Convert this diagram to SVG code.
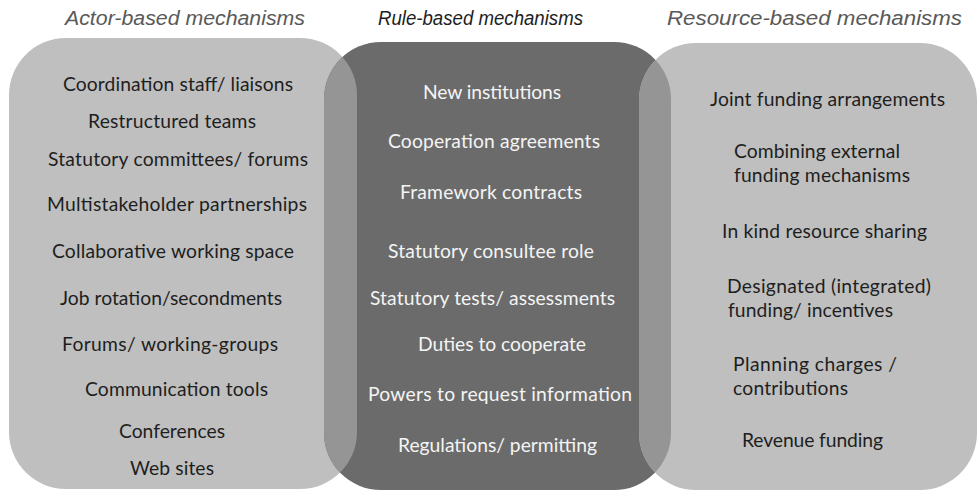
<svg xmlns="http://www.w3.org/2000/svg" width="977" height="492" viewBox="0 0 977 492">
<style>
.light{fill:#bfbfbf}
.dark{fill:#6b6b6b}
.ov{fill:#959595}
.h{font-family:"Liberation Sans",Arial,sans-serif;font-style:italic;font-size:19.5px}
.t{font-family:Lato,"Open Sans",sans-serif;font-size:19.3px}
.blk{fill:#1e1e1e}
.wht{fill:#f4f4f4}
</style>
<defs>
<rect id="shapeL" x="9" y="38" width="348" height="451" rx="57" ry="57"/>
<rect id="shapeM" x="324" y="42" width="347" height="448" rx="57" ry="57"/>
<rect id="shapeR" x="639" y="43" width="338" height="447" rx="57" ry="57"/>
<clipPath id="clipL"><use href="#shapeL"/></clipPath>
<clipPath id="clipR"><use href="#shapeR"/></clipPath>
</defs>
<rect width="977" height="492" fill="#ffffff"/>

<g id="headings">
<text class="h" x="65" y="25" fill="#595959" textLength="240" lengthAdjust="spacingAndGlyphs">Actor-based mechanisms</text>
<text class="h" x="378" y="25" fill="#1e1e1e" textLength="205" lengthAdjust="spacingAndGlyphs">Rule-based mechanisms</text>
<text class="h" x="667" y="25" fill="#595959" textLength="295" lengthAdjust="spacingAndGlyphs">Resource-based mechanisms</text>
</g>

<g id="actor">
<use href="#shapeL" class="light"/>
</g>
<g id="rule">
<use href="#shapeM" class="dark"/>
</g>
<g id="resource">
<use href="#shapeR" class="light"/>
</g>
<g id="overlaps">
<use href="#shapeM" class="ov" clip-path="url(#clipL)"/>
<use href="#shapeM" class="ov" clip-path="url(#clipR)"/>
</g>

<g id="actor-items" class="t blk">
<text x="63" y="91" textLength="230">Coordination staff/ liaisons</text>
<text x="88" y="128" textLength="168">Restructured teams</text>
<text x="48" y="166" textLength="260">Statutory committees/ forums</text>
<text x="47" y="211" textLength="260">Multistakeholder partnerships</text>
<text x="52" y="258" textLength="242">Collaborative working space</text>
<text x="60" y="305" textLength="222">Job rotation/secondments</text>
<text x="62" y="351" textLength="216">Forums/ working-groups</text>
<text x="85" y="396" textLength="183">Communication tools</text>
<text x="119" y="438" textLength="106">Conferences</text>
<text x="130" y="475" textLength="84">Web sites</text>
</g>

<g id="rule-items" class="t wht">
<text x="423" y="99" textLength="138">New institutions</text>
<text x="388" y="148" textLength="212">Cooperation agreements</text>
<text x="400" y="199" textLength="182">Framework contracts</text>
<text x="388" y="258" textLength="206">Statutory consultee role</text>
<text x="370" y="305" textLength="245">Statutory tests/ assessments</text>
<text x="418" y="351" textLength="168">Duties to cooperate</text>
<text x="368" y="401" textLength="264">Powers to request information</text>
<text x="398" y="452" textLength="199">Regulations/ permitting</text>
</g>

<g id="resource-items" class="t blk">
<text x="710" y="106" textLength="235">Joint funding arrangements</text>
<text x="734" y="158" textLength="166">Combining external</text>
<text x="734" y="182" textLength="176">funding mechanisms</text>
<text x="722" y="238" textLength="205">In kind resource sharing</text>
<text x="727" y="293" textLength="204">Designated (integrated)</text>
<text x="728" y="317" textLength="165">funding/ incentives</text>
<text x="733" y="371" textLength="164">Planning charges /</text>
<text x="733" y="395" textLength="115">contributions</text>
<text x="742" y="447" textLength="141">Revenue funding</text>
</g>
</svg>
